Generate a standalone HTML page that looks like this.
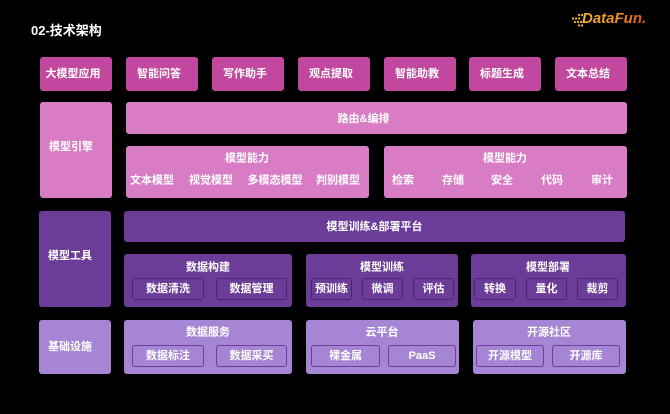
<!DOCTYPE html>
<html><head><meta charset="utf-8"><style>
*{margin:0;padding:0;box-sizing:border-box}
html,body{width:670px;height:414px;background:#000;overflow:hidden}
body{position:relative;font-family:"Liberation Sans","Noto Sans CJK SC",sans-serif;font-weight:bold;color:#fff}
.b{position:absolute;border-radius:3px;display:flex;align-items:center;justify-content:center;font-size:11px;line-height:1;white-space:nowrap}
.m{background:#c2489f}
.p{background:#d87dc5}
.v{background:#6b3d99}
.l{background:#a686d4}
.iv{background:#6b3d99;border:1.5px solid #4a2570;border-radius:3px}
.il{background:#a686d4;border:1.5px solid #6c3f9d;border-radius:3px}
.t{position:absolute;font-size:11px;line-height:1;white-space:nowrap;transform:translate(-50%,-50%)}
.lab{justify-content:flex-start;padding-left:9px}
</style></head><body>
<div style="position:absolute;left:31px;top:24px;font-size:13px;line-height:1;">02-技术架构</div>

<!-- logo -->
<svg style="position:absolute;left:570px;top:12px" width="14" height="16" viewBox="0 0 14 16">
<g fill="#f5b82e">
<circle cx="9" cy="3" r="1.1"/><circle cx="12" cy="3" r="1.1"/>
<circle cx="3" cy="6.5" r="1.1"/><circle cx="6" cy="6.5" r="1.1"/><circle cx="9" cy="6.5" r="1.1"/>
<circle cx="5" cy="10" r="1.1"/><circle cx="8" cy="10" r="1.1"/><circle cx="11" cy="10" r="1.1"/>
<circle cx="9" cy="13.5" r="1.1"/><circle cx="12" cy="13.5" r="1.1"/>
</g></svg>
<div style="position:absolute;left:582px;top:10px;font-size:15px;line-height:18px;font-style:italic;font-weight:bold;background:linear-gradient(90deg,#f6b52c,#f08a25 60%,#e5521f);-webkit-background-clip:text;background-clip:text;color:transparent;">DataFun.</div>

<!-- row 1 -->
<div class="b m" style="left:40px;top:57px;width:72px;height:34px;padding-right:6px">大模型应用</div>
<div class="b m" style="left:126px;top:57px;width:72px;height:34px;padding-right:6px">智能问答</div>
<div class="b m" style="left:212px;top:57px;width:72px;height:34px;padding-right:6px">写作助手</div>
<div class="b m" style="left:298px;top:57px;width:72px;height:34px;padding-right:6px">观点提取</div>
<div class="b m" style="left:384px;top:57px;width:72px;height:34px;padding-right:6px">智能助教</div>
<div class="b m" style="left:469px;top:57px;width:72px;height:34px;padding-right:6px">标题生成</div>
<div class="b m" style="left:555px;top:57px;width:72px;height:34px;padding-right:6px">文本总结</div>

<!-- row 2 -->
<div class="b p lab" style="left:40px;top:102px;width:72px;height:96px;padding-bottom:6px">模型引擎</div>
<div class="b p" style="left:126px;top:102px;width:501px;height:32px;padding-right:26px;padding-top:2px">路由&amp;编排</div>
<div class="b p" style="left:126px;top:146px;width:243px;height:52px"></div>
<div class="b p" style="left:384px;top:146px;width:243px;height:52px"></div>
<div class="t" style="left:247px;top:159px">模型能力</div>
<div class="t" style="left:152px;top:181px">文本模型</div>
<div class="t" style="left:211px;top:181px">视觉模型</div>
<div class="t" style="left:275px;top:181px">多模态模型</div>
<div class="t" style="left:338px;top:181px">判别模型</div>
<div class="t" style="left:505px;top:159px">模型能力</div>
<div class="t" style="left:403px;top:181px">检索</div>
<div class="t" style="left:453px;top:181px">存储</div>
<div class="t" style="left:502px;top:181px">安全</div>
<div class="t" style="left:552px;top:181px">代码</div>
<div class="t" style="left:602px;top:181px">审计</div>

<!-- row 3 -->
<div class="b v lab" style="left:39px;top:211px;width:72px;height:96px;padding-bottom:6px">模型工具</div>
<div class="b v" style="left:124px;top:211px;width:501px;height:31px;padding-top:2px">模型训练&amp;部署平台</div>
<div class="b v" style="left:124px;top:254px;width:168px;height:53px"></div>
<div class="b v" style="left:306px;top:254px;width:152px;height:53px"></div>
<div class="b v" style="left:471px;top:254px;width:155px;height:53px"></div>
<div class="t" style="left:208px;top:268px">数据构建</div>
<div class="t" style="left:382px;top:268px">模型训练</div>
<div class="t" style="left:548px;top:268px">模型部署</div>
<div class="b iv" style="left:132px;top:278px;width:72px;height:22px">数据清洗</div>
<div class="b iv" style="left:216px;top:278px;width:71px;height:22px">数据管理</div>
<div class="b iv" style="left:311px;top:278px;width:41px;height:22px">预训练</div>
<div class="b iv" style="left:362px;top:278px;width:41px;height:22px">微调</div>
<div class="b iv" style="left:413px;top:278px;width:41px;height:22px">评估</div>
<div class="b iv" style="left:474px;top:278px;width:42px;height:22px">转换</div>
<div class="b iv" style="left:526px;top:278px;width:41px;height:22px">量化</div>
<div class="b iv" style="left:577px;top:278px;width:41px;height:22px">裁剪</div>

<!-- row 4 -->
<div class="b l lab" style="left:39px;top:320px;width:72px;height:54px">基础设施</div>
<div class="b l" style="left:124px;top:320px;width:168px;height:54px"></div>
<div class="b l" style="left:306px;top:320px;width:153px;height:54px"></div>
<div class="b l" style="left:473px;top:320px;width:153px;height:54px"></div>
<div class="t" style="left:208px;top:333px">数据服务</div>
<div class="t" style="left:382px;top:333px">云平台</div>
<div class="t" style="left:549px;top:333px">开源社区</div>
<div class="b il" style="left:132px;top:345px;width:72px;height:22px">数据标注</div>
<div class="b il" style="left:216px;top:345px;width:71px;height:22px">数据采买</div>
<div class="b il" style="left:311px;top:345px;width:69px;height:22px">裸金属</div>
<div class="b il" style="left:388px;top:345px;width:68px;height:22px">PaaS</div>
<div class="b il" style="left:476px;top:345px;width:68px;height:22px">开源模型</div>
<div class="b il" style="left:552px;top:345px;width:68px;height:22px">开源库</div>
</body></html>
